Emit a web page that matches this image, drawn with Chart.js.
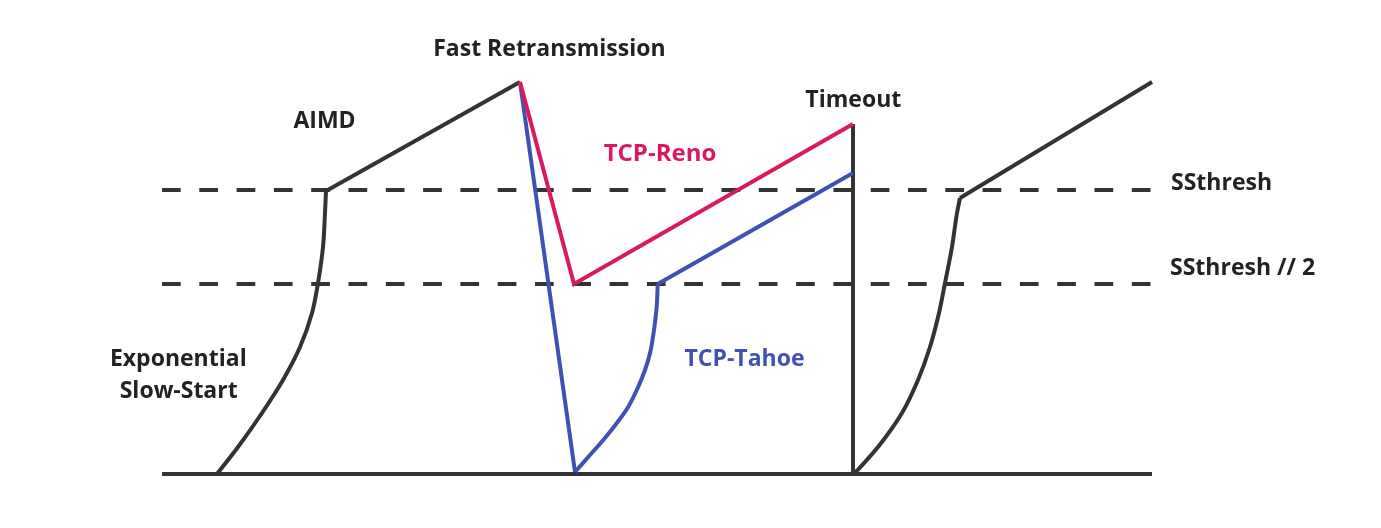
<!DOCTYPE html>
<html>
<head>
<meta charset="utf-8">
<script src="https://cdn.jsdelivr.net/npm/chart.js@4"></script>
<style>
html,body{margin:0;padding:0;background:#fff;}
#wrap{width:1381px;height:528px;position:relative;}
</style>
</head>
<body>
<div id="wrap"><canvas id="c"></canvas></div>
<script>
// units: x = time, y = congestion window
const axisLine = [[16.2, 0], [115.2, 0]];
const ssthresh = [[16.2, 28.4], [115.1, 28.4]];
const ssthreshHalf = [[16.2, 19.0], [115.1, 19.0]];
const slowStart1 = [[21.7, 0.0], [23.8, 2.7], [26.2, 6.1], [28.3, 9.4], [30.0, 12.7], [31.2, 16.1], [31.8, 19.1], [32.3, 22.7], [32.5, 26.1], [32.6, 28.3]];
const aimd1 = [[32.6, 28.3], [52.0, 39.2]];
const renoPath = [[52.0, 39.2], [57.4, 19.0], [85.3, 35.0]];
const tahoeDrop = [[52.0, 39.2], [57.5, 0.2]];
const tahoeSlowStart = [[57.5, 0.2], [59.0, 1.9], [60.33, 3.4], [61.67, 5.07], [62.83, 6.73], [63.83, 8.73], [64.5, 10.4], [65.0, 12.07], [65.4, 14.4], [65.67, 16.73], [65.77, 19.0]];
const tahoeAimd = [[65.77, 19.0], [85.3, 30.1]];
const timeoutDrop = [[85.3, 35.0], [85.3, 0.0]];
const slowStart2 = [[85.5, 0.1], [87.8, 2.7], [90.2, 6.1], [91.8, 9.4], [93.0, 12.7], [93.9, 16.1], [94.5, 19.1], [95.2, 22.7], [95.7, 26.1], [96.0, 27.6]];
const aimd2 = [[96.0, 27.6], [115.2, 39.2]];

const labelTexts = ["Fast Retransmission", "AIMD", "Timeout", "TCP-Reno", "TCP-Tahoe", "Exponential", "Slow-Start", "SSthresh", "SSthresh // 2"];
const labelX = [54.94, 32.45, 85.33, 66.0, 74.45, 17.83, 17.87, 117.1, 117.0];
const labelY = [41.8, 34.57, 36.73, 31.27, 10.8, 10.83, 7.57, 28.4, 19.9];
const labelColors = ["#222", "#222", "#222", "#D81B60", "#3F51B5", "#222", "#222", "#222", "#222"];
const labelAlign = ["center", "center", "center", "center", "center", "center", "center", "left", "left"];
const labelSize = [23, 23, 23, 24, 23, 23, 23, 23, 23];

const BLACK = "#333333", PINK = "#D81B60", BLUE = "#3F51B5";
const pts = a => a.map(p => ({x: p[0], y: p[1]}));
function ds(data, color, opts) {
  return Object.assign({
    data: pts(data), borderColor: color, borderWidth: 4, pointRadius: 0,
    fill: false, tension: 0, borderCapStyle: 'butt', borderJoinStyle: 'miter'
  }, opts || {});
}
const curve = {cubicInterpolationMode: 'monotone', indexAxis: 'y'};

const labelPlugin = {
  id: 'labels',
  afterDatasetsDraw(chart) {
    const ctx = chart.ctx, xs = chart.scales.x, ys = chart.scales.y;
    ctx.save();
    ctx.textBaseline = 'alphabetic';
    labelTexts.forEach((t, i) => {
      ctx.font = "bold " + labelSize[i] + "px 'Open Sans'";
      ctx.fillStyle = labelColors[i];
      ctx.textAlign = labelAlign[i];
      ctx.fillText(t, xs.getPixelForValue(labelX[i]), ys.getPixelForValue(labelY[i]));
    });
    ctx.restore();
  }
};

new Chart(document.getElementById('c'), {
  type: 'line',
  data: {
    datasets: [
      ds(renoPath, PINK, {order: 1}),
      ds(tahoeDrop, BLUE, {order: 2}),
      ds(tahoeSlowStart, BLUE, Object.assign({order: 2}, curve)),
      ds(tahoeAimd, BLUE, {order: 2}),
      ds(timeoutDrop, BLACK, {order: 3}),
      ds(slowStart1, BLACK, Object.assign({order: 3}, curve)),
      ds(aimd1, BLACK, {order: 3}),
      ds(slowStart2, BLACK, Object.assign({order: 3}, curve)),
      ds(aimd2, BLACK, {order: 3}),
      ds(axisLine, BLACK, {order: 4}),
      ds(ssthresh, BLACK, {order: 5, borderDash: [18.7, 18.6]}),
      ds(ssthreshHalf, BLACK, {order: 5, borderDash: [18.7, 18.6]})
    ]
  },
  options: {
    responsive: true, maintainAspectRatio: false, animation: false,
    layout: {padding: 0},
    plugins: {legend: {display: false}, tooltip: {enabled: false}},
    scales: {
      x: {type: 'linear', min: 0, max: 138.1, display: false},
      y: {type: 'linear', min: -5.4, max: 47.4, display: false}
    }
  },
  plugins: [labelPlugin]
});
</script>
</body>
</html>
